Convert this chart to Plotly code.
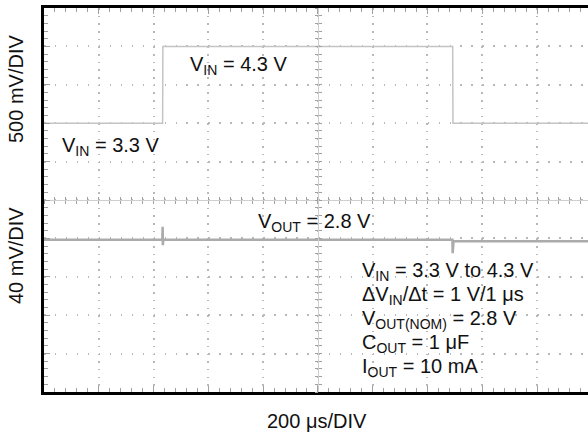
import plotly.graph_objects as go

# Time base: 200 us per division, input 500 mV/div, output 40 mV/div
t_in_us = [0, 433, 434, 1492, 1493, 1986]
v_in = [3.3, 3.3, 4.3, 4.3, 3.3, 3.3]

t_out_us = [0, 432, 433, 434, 435, 437, 1491, 1492, 1493, 1495, 1986]
v_out = [2.7985, 2.7985, 2.8120, 2.7930, 2.7985, 2.7985, 2.7985, 2.7845, 2.7965, 2.797, 2.797]

x_div_us = 200
x_max_us = 1986
vin_range = [-0.2, 4.8]       # 3.3 V sits on the 7th division
vout_range = [2.64, 3.04]     # 2.8 V sits on the 4th division

W, H = 588, 435
L, R, T, B = 44, 0, 8, 43
plot_w = W - L - R
plot_h = H - T - B


def px_x(px):
    return (px - L) / plot_w


def px_y(py):
    return (H - B - py) / plot_h


fig = go.Figure()
fig.add_trace(go.Scatter(x=t_in_us, y=v_in, mode="lines", xaxis="x", yaxis="y",
                         line=dict(color="#c4c4c4", width=1.5), hoverinfo="skip"))
fig.add_trace(go.Scatter(x=t_out_us, y=v_out, mode="lines", xaxis="x", yaxis="y2",
                         line=dict(color="#ababab", width=2.5), hoverinfo="skip"))

# empty traces so the centre-line tick axes get drawn
for xa, ya in [("x3", "y"), ("x4", "y"), ("x", "y3"), ("x", "y4")]:
    fig.add_trace(go.Scatter(x=[None], y=[None], xaxis=xa, yaxis=ya, mode="lines",
                             showlegend=False, hoverinfo="skip"))

grid_col = "#b8b8b8"
tick_col = "#a0a0a0"

xaxis_common = dict(range=[0, x_max_us], showticklabels=False, zeroline=False, fixedrange=True)
yaxis_common = dict(range=vin_range, showticklabels=False, zeroline=False, fixedrange=True)

fig.update_layout(
    width=W, height=H,
    margin=dict(l=L, r=R, t=T, b=B, pad=0),
    paper_bgcolor="white", plot_bgcolor="white",
    showlegend=False,
    xaxis=dict(**xaxis_common, dtick=x_div_us, tick0=0,
               showgrid=True, gridcolor=grid_col, gridwidth=1.5, griddash="1.5px,6.18px",
               showline=True, linecolor="black", linewidth=2.5, mirror="ticks",
               ticks="inside", ticklen=6, tickcolor=tick_col, tickwidth=1,
               minor=dict(dtick=x_div_us / 5, ticks="inside", ticklen=4,
                          tickcolor=tick_col, tickwidth=1, showgrid=False)),
    yaxis=dict(**yaxis_common, dtick=0.5, tick0=vin_range[0],
               showgrid=True, gridcolor=grid_col, gridwidth=1.5, griddash="1.5px,9.46px",
               showline=True, linecolor="black", linewidth=3, mirror=False,
               ticks="inside", ticklen=6, tickcolor=tick_col, tickwidth=1,
               minor=dict(dtick=0.1, ticks="inside", ticklen=4,
                          tickcolor=tick_col, tickwidth=1, showgrid=False)),
    yaxis2=dict(range=vout_range, overlaying="y", showgrid=False, showline=False,
                showticklabels=False, zeroline=False, ticks="", fixedrange=True),
    # horizontal centre line with cross ticks
    xaxis3=dict(**xaxis_common, overlaying="x", anchor="free", position=0.5,
                showgrid=False, showline=True, linecolor="#cfcfcf", linewidth=1,
                dtick=x_div_us / 5, tick0=0, ticks="inside", ticklen=3,
                tickcolor=tick_col, tickwidth=1),
    xaxis4=dict(**xaxis_common, overlaying="x", anchor="free", position=0.5,
                showgrid=False, showline=False,
                dtick=x_div_us / 5, tick0=0, ticks="outside", ticklen=3,
                tickcolor=tick_col, tickwidth=1),
    # vertical centre line with cross ticks
    yaxis3=dict(**yaxis_common, overlaying="y", anchor="free",
                position=(5 * x_div_us) / x_max_us,
                showgrid=False, showline=True, linecolor="#cfcfcf", linewidth=1,
                dtick=0.1, tick0=vin_range[0], ticks="inside", ticklen=3,
                tickcolor=tick_col, tickwidth=1),
    yaxis4=dict(**yaxis_common, overlaying="y", anchor="free",
                position=(5 * x_div_us) / x_max_us,
                showgrid=False, showline=False,
                dtick=0.1, tick0=vin_range[0], ticks="outside", ticklen=3,
                tickcolor=tick_col, tickwidth=1),
)

font = dict(family="Liberation Sans, Arial, Helvetica, sans-serif", size=20, color="#111111")


def label(text, px, py, xanchor="left", angle=0):
    fig.add_annotation(text=text, x=px_x(px), y=px_y(py), xref="paper", yref="paper",
                       xanchor=xanchor, yanchor="middle", showarrow=False,
                       font=font, textangle=angle, align="left")


label("V<sub>IN</sub> = 4.3 V", 188, 66)
label("V<sub>IN</sub> = 3.3 V", 60, 146)
label("V<sub>OUT</sub> = 2.8 V", 256, 222)
label("V<sub>IN</sub> = 3.3 V to 4.3 V", 360, 271)
label("ΔV<sub>IN</sub>/Δt = 1 V/1 μs", 360, 295)
label("V<sub>OUT(NOM)</sub> = 2.8 V", 360, 319)
label("C<sub>OUT</sub> = 1 μF", 360, 343)
label("I<sub>OUT</sub> = 10 mA", 360, 367)

label("500 mV/DIV", 16, 89, xanchor="center", angle=-90)
label("40 mV/DIV", 16, 256, xanchor="center", angle=-90)
label("200 μs/DIV", 317, 421, xanchor="center")

fig.write_html("out.html")
